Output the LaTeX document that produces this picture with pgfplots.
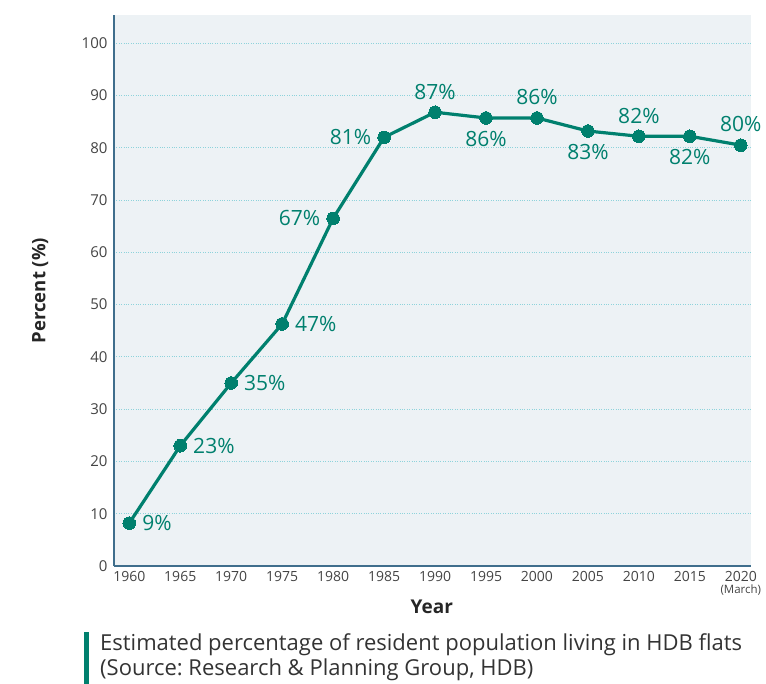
\documentclass[border=0pt]{standalone}
\usepackage{pgfplots}
\pgfplotsset{compat=1.18}
\usepackage{pgfplotstable}
\usepackage{fontspec}
\setmainfont{Open Sans}
\frenchspacing
\definecolor{hdbteal}{HTML}{00806E}
\definecolor{bgcol}{HTML}{EDF2F5}
\definecolor{axcol}{HTML}{3F6E8C}
\definecolor{gridcol}{HTML}{8ED3DB}
\definecolor{tickcol}{HTML}{444444}
\pgfplotstableread{
year val lab
1960 8.2 9
1965 23.0 23
1970 35.0 35
1975 46.3 47
1980 66.5 67
1985 82.0 81
1990 86.8 87
1995 85.7 86
2000 85.7 86
2005 83.2 83
2010 82.2 82
2015 82.2 82
2020 80.5 80
}\datatable
\begin{document}
\begin{tikzpicture}
\useasboundingbox (0pt,0pt) rectangle (766pt,-684pt);
\begin{axis}[
  at={(114pt,-566pt)}, anchor=south west,
  scale only axis, width=637pt, height=551pt,
  xmin=1958.5, xmax=2021, ymin=0, ymax=105.4,
  axis x line=bottom, axis y line=left,
  axis line style={-, draw=axcol, line width=1.6pt},
  axis background/.style={fill=bgcol},
  xtick={1960,1965,...,2020},
  xticklabels={1960,1965,1970,1975,1980,1985,1990,1995,2000,2005,2010,2015,{2020\\[-3pt]{\fontsize{11.5}{12}\selectfont(March)}}},
  ytick={0,10,...,100},
  major tick length=0pt,
  ymajorgrids,
  grid style={dotted, draw=gridcol, line width=0.9pt},
  xticklabel style={font=\fontsize{14}{15}\selectfont, text=tickcol, align=center, anchor=north, yshift=-2pt},
  yticklabel style={font=\fontsize{15}{16}\selectfont, text=tickcol, xshift=-3pt},
  /pgf/number format/assume math mode=true,
  ylabel={Percent (\%)},
  ylabel style={font=\bfseries\fontsize{18.5}{19}\selectfont, text=black!85, at={(axis description cs:-0.116,0.5)}, anchor=center},
  xlabel={Year},
  xlabel style={font=\bfseries\fontsize{19}{20}\selectfont, text=black!85, at={(axis description cs:0.499,-0.0744)}, anchor=center},
  clip=false,
]
\addplot[hdbteal, line width=3.2pt, mark=*, mark size=6.3pt,
  mark options={fill=hdbteal, draw=hdbteal, line width=0pt},
  point meta=explicit,
  visualization depends on={value \coordindex\as\idx},
  nodes near coords={\pgfmathprintnumber{\pgfplotspointmeta}\%},
  nodes near coords style={/utils/exec={\pgfmathtruncatemacro\myanc{{180,180,180,180,0,0,270,90,270,90,270,90,270}[\idx]}},
     anchor=\myanc, inner sep=13pt, text=hdbteal, font=\fontsize{21}{22}\selectfont},
] table[x=year, y=val, meta=lab] {\datatable};
\end{axis}
\fill[hdbteal] (84pt,-632pt) rectangle (89pt,-684pt);
\node[anchor=north west, align=left, inner sep=0pt, text=black!80, font=\fontsize{22}{25}\selectfont] at (100pt,-633pt) {Estimated percentage of resident population living in HDB flats\\(Source: Research \& Planning Group, HDB)};
\end{tikzpicture}
\end{document}
